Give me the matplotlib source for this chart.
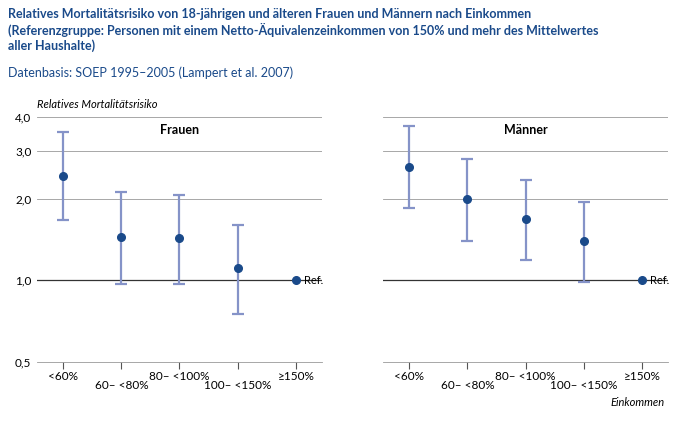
import matplotlib
matplotlib.use("Agg")
import matplotlib.pyplot as plt
from matplotlib.ticker import FixedLocator, NullLocator

plt.rcParams["font.family"] = "Lato"

categories = ["<60%", "60– <80%", "80– <100%", "100– <150%", "≥150%"]
frauen = [2.43, 1.45, 1.43, 1.11, 1.0]
frauen_lo = [1.67, 0.97, 0.97, 0.75, 1.0]
frauen_hi = [3.52, 2.12, 2.07, 1.60, 1.0]
maenner = [2.62, 2.0, 1.69, 1.40, 1.0]
maenner_lo = [1.85, 1.40, 1.19, 0.99, 1.0]
maenner_hi = [3.70, 2.80, 2.35, 1.95, 1.0]
yticks = [0.5, 1.0, 2.0, 3.0, 4.0]
ytick_labels = ["0,5", "1,0", "2,0", "3,0", "4,0"]

BLUE = "#1a4a8a"
ERR = "#8593c8"

fig = plt.figure(figsize=(6.77, 4.22), dpi=100)
W, H = 677, 422
panels = [(37, "Frauen", frauen, frauen_lo, frauen_hi),
          (383, "Männer", maenner, maenner_lo, maenner_hi)]
for i, (x0, title, v, lo, hi) in enumerate(panels):
    ax = fig.add_axes([x0 / W, 1 - 362 / H, 285 / W, 245 / H])
    xs = list(range(len(categories)))
    for k in range(4):
        ax.errorbar(xs[k], v[k], yerr=[[v[k] - lo[k]], [hi[k] - v[k]]], fmt="o",
                    color=BLUE, ecolor=ERR, elinewidth=1.6, capsize=4, capthick=1.6,
                    markersize=5.5, zorder=3)
    ax.plot(xs[4], v[4], "o", color=BLUE, markersize=5.5, zorder=3)
    ax.text(xs[4] + 0.14, v[4], "Ref.", va="center", fontsize=8)
    ax.set_yscale("log")
    ax.set_ylim(0.5, 4.0)
    ax.set_xlim(-0.45, 4.45)
    for y in [2.0, 3.0, 4.0]:
        ax.axhline(y, color="#999999", lw=0.6, zorder=1)
    ax.axhline(1.0, color="#333333", lw=0.9, zorder=1)
    ax.yaxis.set_major_locator(FixedLocator(yticks))
    ax.yaxis.set_minor_locator(NullLocator())
    if i == 0:
        ax.set_yticklabels(ytick_labels, fontsize=8.5)
        ax.tick_params(axis="y", length=0, pad=4)
    else:
        ax.tick_params(axis="y", length=0, labelleft=False)
    ax.set_xticks(xs)
    ax.set_xticklabels([])
    ax.tick_params(axis="x", length=5, color="#555555")
    for k, c in enumerate(categories):
        ax.text(xs[k], -0.035 - 0.04 * (k % 2), c, transform=ax.get_xaxis_transform(),
                ha="center", va="top", fontsize=8.5)
    for s in ["top", "right", "left"]:
        ax.spines[s].set_visible(False)
    ax.spines["bottom"].set_color("#999999")
    ax.spines["bottom"].set_linewidth(0.6)
    ax.text(0.5, 0.93, title, transform=ax.transAxes, ha="center", fontsize=9, fontweight="bold")

fig.text(37 / W, 1 - 110 / H, "Relatives Mortalitätsrisiko", fontsize=8, style="italic", va="bottom")
fig.text(665 / W, 1 - 408 / H, "Einkommen", fontsize=8, style="italic", ha="right", va="bottom")
fig.text(8 / W, 1 - 8 / H, "Relatives Mortalitätsrisiko von 18-jährigen und älteren Frauen und Männern nach Einkommen\n"
         "(Referenzgruppe: Personen mit einem Netto-Äquivalenzeinkommen von 150% und mehr des Mittelwertes\n"
         "aller Haushalte)", fontsize=9, fontweight="bold", color=BLUE, va="top", linespacing=1.25)
fig.text(8 / W, 1 - 66 / H, "Datenbasis: SOEP 1995–2005 (Lampert et al. 2007)", fontsize=9, color=BLUE, va="top")
fig.savefig("out.png", dpi=100)
